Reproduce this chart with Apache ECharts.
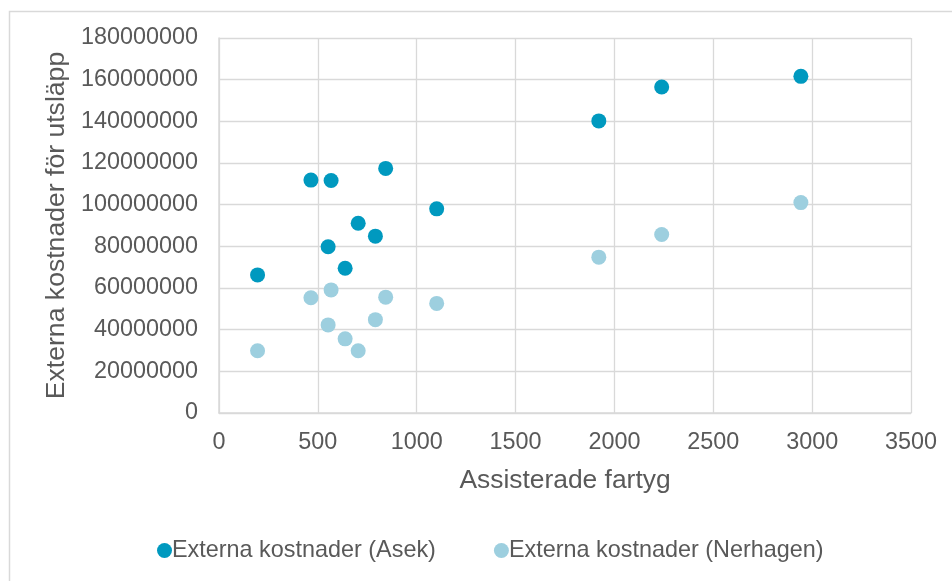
<!DOCTYPE html>
<html>
<head>
<meta charset="utf-8">
<script src="https://cdn.jsdelivr.net/npm/echarts@6/dist/echarts.min.js"></script>
<style>
html,body{margin:0;padding:0;background:#fff;}
#chart{width:952px;height:581px;}
</style>
</head>
<body>
<div id="chart"></div>
<script>
const seriesNames = ['Externa kostnader (Asek)', 'Externa kostnader (Nerhagen)'];
const xTitle = 'Assisterade fartyg';
const yTitle = 'Externa kostnader för utsläpp';
const assisted = [195, 465, 567, 843, 1101, 704, 791, 552, 638, 1921, 2239, 2943];
const asek = [66300000, 111800000, 111600000, 117400000, 98000000, 91100000, 84900000, 79800000, 69500000, 140200000, 156500000, 161600000];
const nerhagen = [29900000, 55300000, 59100000, 55600000, 52600000, 29900000, 44800000, 42300000, 35600000, 74800000, 85700000, 101000000];

const textColor = '#595959';
const gridColor = '#D9D9D9';
const font = 'Liberation Sans, Arial, sans-serif';

const chart = echarts.init(document.getElementById('chart'));
chart.setOption({
  backgroundColor: '#fff',
  animation: false,
  textStyle: { fontFamily: font, color: textColor },
  graphic: [{
    type: 'rect', left: 7, top: 9, silent: true,
    shape: { width: 1000, height: 700 },
    style: { fill: 'none', stroke: gridColor, lineWidth: 1.5 }
  }],
  grid: { left: 219, right: 41, top: 38, bottom: 168 },
  legend: {
    left: 152, top: 534,
    itemWidth: 15, itemHeight: 15, itemGap: 58,
    icon: 'circle',
    textStyle: { fontSize: 23.4, color: textColor, fontFamily: font, padding: [0, 0, 0, -5] },
    data: seriesNames
  },
  xAxis: {
    type: 'value', min: 0, max: 3500, interval: 500,
    name: xTitle, nameLocation: 'middle', nameGap: 55,
    nameTextStyle: { fontSize: 26.4, color: textColor, fontFamily: font },
    axisLine: { show: true, lineStyle: { color: gridColor, width: 1.5 } },
    axisTick: { show: false },
    axisLabel: { fontSize: 23.4, color: textColor, margin: 18, fontFamily: font, formatter: v => String(v) },
    splitLine: { show: true, lineStyle: { color: gridColor, width: 1.3 } }
  },
  yAxis: {
    type: 'value', min: 0, max: 180000000, interval: 20000000,
    name: yTitle, nameLocation: 'middle', nameGap: 138,
    nameTextStyle: { fontSize: 26.6, color: textColor, fontFamily: font },
    axisLine: { show: true, lineStyle: { color: gridColor, width: 1.5 } },
    axisTick: { show: false },
    axisLabel: { fontSize: 23.4, color: textColor, margin: 21, fontFamily: font, formatter: v => String(v) },
    splitLine: { show: true, lineStyle: { color: gridColor, width: 1.3 } }
  },
  series: [
    {
      name: seriesNames[0], type: 'scatter', symbol: 'circle', symbolSize: 15,
      itemStyle: { color: '#0099BF', opacity: 1 },
      data: assisted.map((x, i) => [x, asek[i]])
    },
    {
      name: seriesNames[1], type: 'scatter', symbol: 'circle', symbolSize: 15,
      itemStyle: { color: '#9DCFDF', opacity: 1 },
      data: assisted.map((x, i) => [x, nerhagen[i]])
    }
  ]
});
</script>
</body>
</html>
